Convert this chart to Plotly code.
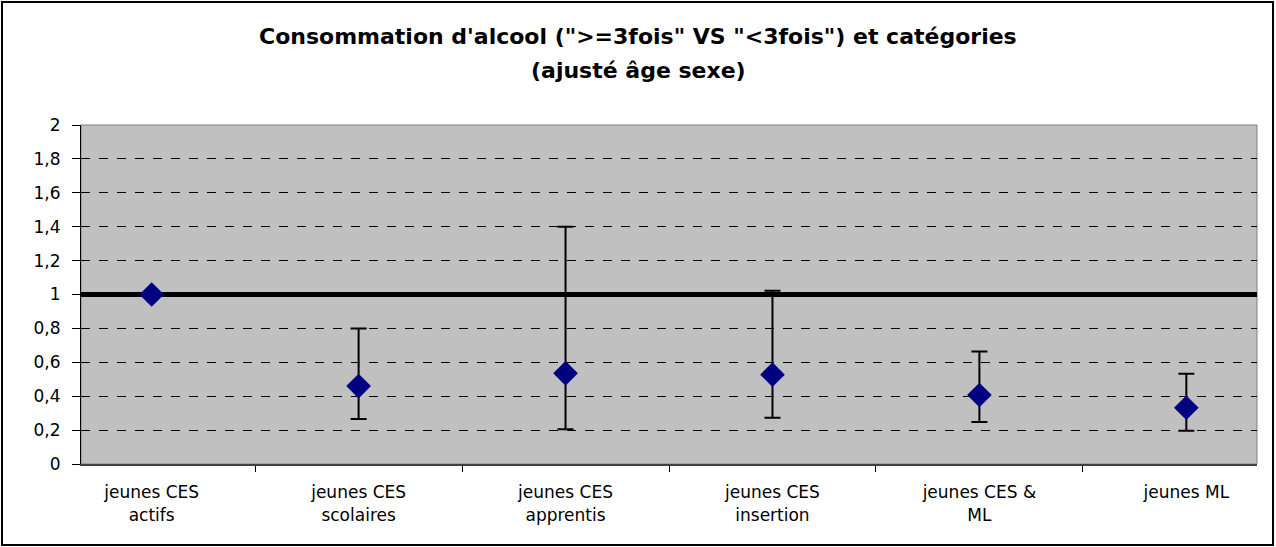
import plotly.graph_objects as go

# Odds ratios with 95% CI
categories = [
    "jeunes CES<br>actifs",
    "jeunes CES<br>scolaires",
    "jeunes CES<br>apprentis",
    "jeunes CES<br>insertion",
    "jeunes CES &<br>ML",
    "jeunes ML",
]
odds_ratio = [1.0, 0.46, 0.535, 0.527, 0.407, 0.332]
ci_upper = [1.0, 0.80, 1.40, 1.022, 0.663, 0.533]
ci_lower = [1.0, 0.265, 0.205, 0.273, 0.248, 0.196]
ref_level = 1
y_tickvals = [0, 0.2, 0.4, 0.6, 0.8, 1, 1.2, 1.4, 1.6, 1.8, 2]
y_ticktext = ["0", "0,2", "0,4", "0,6", "0,8", "1", "1,2", "1,4", "1,6", "1,8", "2"]

title_line1 = "Consommation d'alcool (\">=3fois\" VS \"<3fois\") et catégories"
title_line2 = "(ajusté âge sexe)"

W, H = 1276, 547
L, R, T, B = 81, 19, 125, 83
font = "DejaVu Sans"

err_plus = [u - v for u, v in zip(ci_upper, odds_ratio)]
err_minus = [v - lo for v, lo in zip(odds_ratio, ci_lower)]

fig = go.Figure()
fig.add_trace(go.Scatter(
    x=categories,
    y=odds_ratio,
    mode="markers",
    marker=dict(symbol="diamond", size=19, color="#000080", line=dict(width=0)),
    error_y=dict(type="data", symmetric=False, array=err_plus, arrayminus=err_minus,
                 color="black", thickness=2, width=8),
    showlegend=False,
))

# pixel -> paper helpers for the outer frame and titles
pw, ph = W - L - R, H - T - B
px = lambda x: (x - L) / pw
py = lambda y: (H - B - y) / ph

shapes = [
    # plot area border (grey)
    dict(type="rect", xref="paper", yref="paper", x0=0, x1=1, y0=0, y1=1,
         line=dict(color="#808080", width=1), layer="below"),
    # reference line
    dict(type="line", xref="paper", yref="y", x0=0, x1=1, y0=ref_level, y1=ref_level,
         line=dict(color="black", width=5), layer="below"),
    # chart outer frame
    dict(type="rect", xref="paper", yref="paper", x0=px(2), x1=px(1273), y0=py(545), y1=py(2),
         line=dict(color="black", width=2)),
]

fig.update_layout(
    width=W, height=H,
    margin=dict(l=L, r=R, t=T, b=B, autoexpand=False),
    paper_bgcolor="white",
    plot_bgcolor="#C0C0C0",
    font=dict(family=font, size=17, color="black"),
    shapes=shapes,
    annotations=[
        dict(text="<b>" + title_line1 + "</b>", xref="paper", yref="paper", x=px(638), y=py(37),
             showarrow=False, xanchor="center", yanchor="middle", font=dict(size=22)),
        dict(text="<b>" + title_line2 + "</b>", xref="paper", yref="paper", x=px(638), y=py(70),
             showarrow=False, xanchor="center", yanchor="middle", font=dict(size=22)),
    ],
)

fig.update_xaxes(
    type="category",
    tickson="boundaries",
    ticks="outside", ticklen=6, tickcolor="black",
    showline=True, linecolor="#404040", linewidth=2,
    showgrid=False,
    ticklabelstandoff=12,
    tickfont=dict(size=17),
)
fig.update_yaxes(
    range=[0, 2],
    tickvals=y_tickvals, ticktext=y_ticktext,
    ticks="outside", ticklen=8, tickcolor="black",
    showline=True, linecolor="black", linewidth=1,
    showgrid=True, gridcolor="black", griddash="dash", gridwidth=1,
    zeroline=False,
    ticklabelstandoff=8,
    tickfont=dict(size=17),
)

fig.write_html("out.html", config={"displayModeBar": False},
               post_script="document.body.style.margin='0';")
